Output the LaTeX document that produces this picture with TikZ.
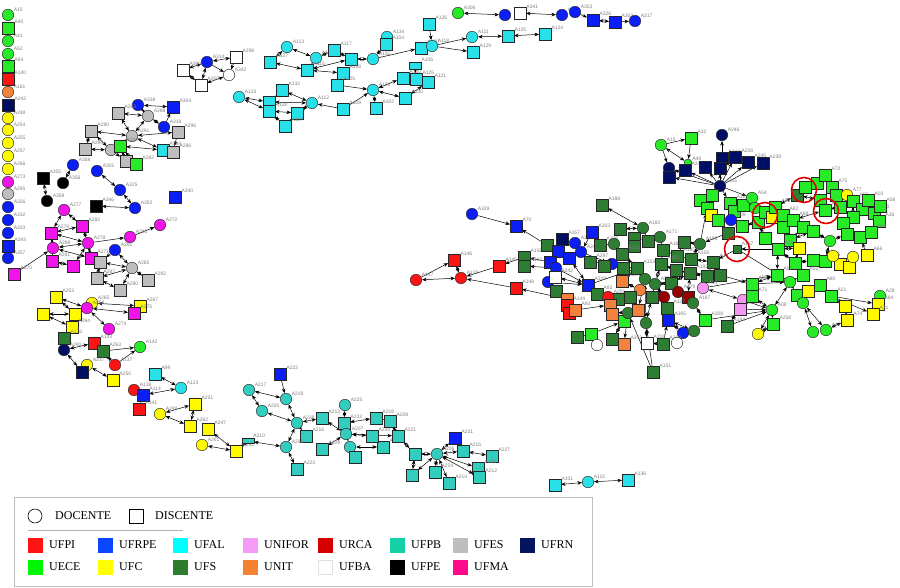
\documentclass[tikz,border=0pt]{standalone}
\usepackage{fontspec}
\setmainfont{Liberation Serif}
\newfontfamily\lbfont{Liberation Sans}
\usetikzlibrary{arrows.meta}
\pgfdeclarelayer{bg}
\pgfsetlayers{bg,main}
\definecolor{gn}{RGB}{40,235,40}
\definecolor{rd}{RGB}{250,20,20}
\definecolor{og}{RGB}{245,130,60}
\definecolor{nv}{RGB}{0,15,100}
\definecolor{yl}{RGB}{255,250,0}
\definecolor{mg}{RGB}{240,20,235}
\definecolor{gy}{RGB}{190,190,190}
\definecolor{bl}{RGB}{10,30,245}
\definecolor{cy}{RGB}{40,225,232}
\definecolor{tl}{RGB}{50,205,190}
\definecolor{wh}{RGB}{255,255,255}
\definecolor{bk}{RGB}{0,0,0}
\definecolor{dg}{RGB}{45,125,50}
\definecolor{mr}{RGB}{150,0,0}
\definecolor{pk}{RGB}{245,150,245}
\definecolor{Lufpi}{RGB}{255,20,20}
\definecolor{Lufrpe}{RGB}{10,70,255}
\definecolor{Lufal}{RGB}{0,255,255}
\definecolor{Lunifor}{RGB}{245,155,245}
\definecolor{Lurca}{RGB}{215,0,0}
\definecolor{Lufpb}{RGB}{20,210,165}
\definecolor{Lufes}{RGB}{190,190,190}
\definecolor{Lufrn}{RGB}{5,20,95}
\definecolor{Luece}{RGB}{0,245,0}
\definecolor{Lufc}{RGB}{255,255,0}
\definecolor{Lufs}{RGB}{45,125,45}
\definecolor{Lunit}{RGB}{245,130,50}
\definecolor{Lufba}{RGB}{255,255,255}
\definecolor{Lufpe}{RGB}{0,0,0}
\definecolor{Lufma}{RGB}{255,10,140}
\tikzset{
 nd/.style={draw=black!85, line width=0.45pt, inner sep=0pt, minimum size=11.5pt},
 cs/.style={nd, circle, fill=#1},
 ss/.style={nd, rectangle, fill=#1},
 l/.style={label={[lb]30:#1}},
 lb/.style={font=\lbfont\fontsize{5}{5.5}\selectfont, text=black!50, inner sep=0.4pt},
 e/.style={{Stealth[length=4.6pt,width=3.6pt]}-{Stealth[length=4.6pt,width=3.6pt]}, line width=0.5pt},
 a/.style={-{Stealth[length=4.6pt,width=3.6pt]}, line width=0.5pt},
 ring/.style={circle, draw=red!90!black, line width=1.6pt, minimum size=25pt, inner sep=0pt},
 legsq/.style={rectangle, fill=#1, minimum size=15pt, inner sep=0pt},
 legtx/.style={anchor=west, font=\fontsize{12}{14}\selectfont, inner sep=0pt},
}
\begin{document}
\begin{tikzpicture}[x=1pt,y=-1pt]
\useasboundingbox (0,0) rectangle (900,587);
% ---------- left column
\node[cs=gn,l=A15] (A15) at (8,15) {};
\node[ss=gn,l=A40] (A40) at (8,28) {};
\node[cs=gn,l=A41] (A41) at (8,41) {};
\node[cs=gn,l=A52] (A52) at (8,54) {};
\node[ss=gn,l=A64] (A64) at (8,66) {};
\node[ss=rd,l=A140] (A140) at (8,79) {};
\node[cs=og,l=A161] (A161) at (8,92) {};
\node[ss=nv,l=A242] (A242) at (8,105) {};
\node[cs=yl,l=A248] (A248) at (8,118) {};
\node[cs=yl,l=A254] (A254) at (8,130) {};
\node[cs=yl,l=A255] (A255) at (8,143) {};
\node[cs=yl,l=A257] (A257) at (8,156) {};
\node[cs=yl,l=A266] (A266) at (8,169) {};
\node[cs=mg,l=A273] (A273) at (8,182) {};
\node[cs=gy,l=A295] (A295) at (8,194) {};
\node[cs=bl,l=A326] (A326) at (8,207) {};
\node[cs=bl,l=A332] (A332) at (8,220) {};
\node[cs=bl,l=A333] (A333) at (8,233) {};
\node[ss=bl,l=A343] (A343) at (8,246) {};
\node[cs=bl,l=A357] (A357) at (8,258) {};
\node[ss=mg,l=A270] (A270) at (14,274) {};
% ---------- white group
\node[ss=wh,l=A300] (w1) at (183,70) {};
\node[cs=bl,l=A314] (w2) at (207,62) {};
\node[ss=wh,l=A298] (w3) at (236,57) {};
\node[cs=wh,l=A342] (w4) at (229,75) {};
\node[ss=wh,l=A350] (w5) at (201,85) {};
% ---------- top cyan
\node[cs=cy,l=A113] (t1) at (287,47) {};
\node[ss=cy,l=A127] (t2) at (270,62) {};
\node[cs=cy,l=A116] (t3) at (316,58) {};
\node[ss=cy,l=A117] (t4) at (334,50) {};
\node[ss=cy] (t5) at (351,59) {};
\node[ss=cy,l=A115] (t6) at (307,70) {};
\node[ss=cy,l=A108] (t7) at (343,73) {};
\node[ss=cy,l=A132] (t8) at (282,90) {};
\node[cs=cy,l=A133] (t9) at (239,97) {};
\node[ss=cy] (t10) at (269,102) {};
\node[ss=cy,l=A128] (t11) at (269,111) {};
\node[ss=cy] (t12) at (297,113) {};
\node[ss=cy,l=A107] (t13) at (285,126) {};
\node[cs=cy,l=A112] (t14) at (312,103) {};
\node[ss=cy,l=A105] (t15) at (337,85) {};
\node[ss=cy,l=A109] (t16) at (343,109) {};
\node[cs=cy,l=A131] (t17) at (373,59) {};
\node[cs=cy,l=A103] (t18) at (373,90) {};
\node[cs=cy,l=A134] (t19) at (387,37) {};
\node[ss=cy,l=A104] (t20) at (386,44) {};
\node[ss=cy,l=A120] (t21) at (421,48) {};
\node[cs=cy,l=A118] (t22) at (432,46) {};
\node[ss=cy,l=A126] (t23) at (429,24) {};
\node[cs=cy,l=A111] (t24) at (472,37) {};
\node[ss=cy,l=A129] (t25) at (473,52) {};
\node[ss=cy,l=A125] (t26) at (508,36) {};
\node[ss=cy,l=A124] (t27) at (545,34) {};
\node[ss=cy,l=A130] (t28) at (403,78) {};
\node[ss=cy,l=A100] (t29) at (405,98) {};
\node[ss=cy,l=A102] (t30) at (376,108) {};
\node[ss=cy,minimum height=7pt,l=A106] (t31) at (415,66) {};
\node[ss=cy,l=A121] (t32) at (428,82) {};
\node[ss=cy,l=A125] (t33) at (416,79) {};
% ---------- top right chain
\node[cs=gn,l=A306] (r1) at (458,13) {};
\node[cs=bl] (r2) at (505,15) {};
\node[ss=wh,l=A341] (r3) at (520,13) {};
\node[cs=bl,l=A315] (r4) at (562,15) {};
\node[cs=bl,l=A353] (r5) at (575,12) {};
\node[ss=bl,l=A328] (r6) at (593,20) {};
\node[ss=bl,l=A302] (r7) at (615,22) {};
\node[cs=bl,l=A217] (r8) at (635,21) {};
% ---------- gray group
\node[cs=bl,l=A338] (g1) at (138,105) {};
\node[ss=bl,l=A304] (g2) at (173,107) {};
\node[ss=gy,l=A283] (g3) at (118,113) {};
\node[cs=gy,l=A288] (g4) at (148,116) {};
\node[cs=bl,l=A318] (g5) at (164,127) {};
\node[ss=gy,l=A290] (g6) at (91,131) {};
\node[cs=gy,l=A291] (g7) at (132,136) {};
\node[ss=gy,l=A296] (g8) at (178,132) {};
\node[ss=gy,l=A294] (g9) at (85,149) {};
\node[cs=gy] (g10) at (111,150) {};
\node[ss=gn,l=A344] (g11) at (120,146) {};
\node[ss=cy,l=A334] (g12) at (163,150) {};
\node[ss=gy,l=A286] (g13) at (173,152) {};
\node[ss=gy] (g14) at (126,161) {};
\node[ss=gn,l=A282] (g15) at (136,164) {};
% ---------- black/blue
\node[cs=bl,l=A358] (b1) at (73,165) {};
\node[ss=bk,l=A355] (b2) at (43,178) {};
\node[cs=bk,l=A356] (b3) at (63,183) {};
\node[cs=bk,l=A359] (b4) at (47,201) {};
\node[cs=bl,l=A301] (b5) at (97,171) {};
\node[cs=bl,l=A325] (b6) at (120,190) {};
\node[ss=bk,l=A346] (b7) at (96,206) {};
\node[cs=bl,l=A352] (b8) at (135,208) {};
\node[ss=bl,l=A340] (b9) at (175,197) {};
% ---------- magenta
\node[cs=mg,l=A277] (m1) at (64,210) {};
\node[ss=mg,l=A282] (m2) at (82,226) {};
\node[ss=mg,l=A279] (m3) at (51,233) {};
\node[cs=mg,l=A278] (m4) at (88,243) {};
\node[cs=mg,l=A280] (m5) at (130,237) {};
\node[cs=mg,l=A272] (m6) at (160,225) {};
\node[cs=mg,l=A289] (m7) at (53,248) {};
\node[ss=mg,l=A281] (m8) at (52,261) {};
\node[ss=mg] (m9) at (73,266) {};
\node[ss=mg,l=A271] (m10) at (91,258) {};
% ---------- gray lower
\node[cs=bl,l=A291] (q1) at (115,250) {};
\node[ss=gy] (q2) at (100,262) {};
\node[cs=gy,l=A285] (q3) at (132,268) {};
\node[ss=gy,l=A287] (q4) at (97,278) {};
\node[ss=gy,l=A290] (q5) at (120,290) {};
\node[ss=gy,l=A292] (q6) at (148,280) {};
% ---------- yellow lower left
\node[cs=yl,l=A265] (y5) at (92,303) {};
\node[ss=yl,l=A253] (y1) at (56,297) {};
\node[ss=yl] (y2) at (43,314) {};
\node[ss=yl,l=A256] (y3) at (75,314) {};
\node[cs=mg,l=A258] (y4) at (87,308) {};
\node[ss=yl,l=A267] (y6) at (140,306) {};
\node[ss=mg,l=A275] (y7) at (134,313) {};
\node[ss=yl,l=A264] (y8) at (72,327) {};
\node[cs=mg,l=A274] (y9) at (109,329) {};
\node[ss=dg,l=A176] (y10) at (64,338) {};
\node[cs=nv,l=A240] (y11) at (64,350) {};
\node[ss=rd,l=A143] (y12) at (94,343) {};
\node[ss=dg,l=A263] (y13) at (103,351) {};
\node[cs=gn,l=A142] (y14) at (140,347) {};
\node[cs=rd,l=A137] (y15) at (115,365) {};
\node[cs=yl,l=A237] (y16) at (87,365) {};
\node[ss=nv] (y17) at (82,372) {};
\node[ss=yl,l=A250] (y18) at (113,380) {};
% ---------- mid
\node[ss=cy,l=A99] (z1) at (155,374) {};
\node[cs=cy,l=A123] (z2) at (181,388) {};
\node[cs=rd,l=A138] (z3) at (134,390) {};
\node[ss=bl,l=A114] (z4) at (143,395) {};
\node[ss=rd,l=A141] (z5) at (139,409) {};
\node[ss=yl,l=A251] (z6) at (195,404) {};
\node[cs=yl,l=A249] (z7) at (160,414) {};
\node[ss=yl,l=A262] (z8) at (190,426) {};
\node[ss=yl,l=A247] (z9) at (208,429) {};
\node[cs=yl,l=A261] (z10) at (202,445) {};
\node[ss=yl,l=A252] (z11) at (236,451) {};
\node[ss=tl,minimum height=5pt,l=A210] (z12) at (248,441) {};
% ---------- bottom teal
\node[ss=bl,l=A222] (u1) at (280,374) {};
\node[cs=tl,l=A217] (u2) at (249,390) {};
\node[cs=tl,l=A219] (u3) at (286,399) {};
\node[cs=tl,l=A220] (u4) at (262,411) {};
\node[cs=tl,l=A228] (u5) at (297,423) {};
\node[ss=tl,l=A213] (u6) at (322,418) {};
\node[ss=tl,l=A216] (u7) at (306,436) {};
\node[ss=tl,l=A232] (u8) at (344,423) {};
\node[cs=tl,l=A225] (u9) at (345,405) {};
\node[cs=tl,l=A207] (u10) at (346,434) {};
\node[cs=tl,l=A233] (u11) at (286,447) {};
\node[ss=tl,l=A223] (u12) at (297,469) {};
\node[ss=tl,l=A229] (u13) at (322,449) {};
\node[cs=tl] (u14) at (350,447) {};
\node[ss=tl] (u15) at (355,457) {};
\node[ss=tl,l=A211] (u16) at (383,447) {};
\node[ss=tl,l=A234] (u17) at (372,436) {};
\node[ss=tl,l=A218] (u18) at (376,418) {};
\node[ss=tl,l=A208] (u19) at (390,421) {};
\node[ss=tl,l=A221] (u20) at (398,436) {};
\node[ss=tl] (u21) at (415,454) {};
\node[cs=tl,l=A206] (u22) at (437,454) {};
\node[ss=bl,l=A231] (u23) at (455,438) {};
\node[ss=tl,l=A215] (u24) at (463,451) {};
\node[ss=tl,l=A227] (u25) at (492,456) {};
\node[ss=tl,l=A226] (u26) at (478,468) {};
\node[ss=tl,l=A212] (u27) at (479,477) {};
\node[ss=tl] (u28) at (412,475) {};
\node[ss=tl,l=A224] (u29) at (435,472) {};
\node[ss=tl,l=A214] (u30) at (449,483) {};
\node[ss=cy,l=A101] (v1) at (555,485) {};
\node[cs=cy,l=A115] (v2) at (588,482) {};
\node[ss=cy,l=A136] (v3) at (628,480) {};
% ---------- red group
\node[cs=bl,l=A329] (k1) at (472,214) {};
\node[ss=bl,l=A70] (k2) at (516,226) {};
\node[ss=dg,l=A188] (k3) at (602,205) {};
\node[ss=rd,l=A146] (k4) at (454,260) {};
\node[cs=rd,l=A147] (k5) at (416,280) {};
\node[cs=rd,l=A139] (k6) at (461,278) {};
\node[ss=rd,l=A145] (k7) at (499,266) {};
\node[ss=rd,l=A148] (k8) at (516,288) {};
% ---------- central
\node[ss=dg,l=A158] (c1) at (524,257) {};
\node[ss=dg,l=A162] (c2) at (524,266) {};
\node[ss=dg] (c10) at (547,245) {};
\node[ss=nv,l=A357] (c3) at (562,239) {};
\node[cs=bl,l=A354] (c4) at (575,243) {};
\node[ss=bl] (c6) at (558,251) {};
\node[cs=bl,l=A248] (c5) at (581,252) {};
\node[ss=bl] (c7) at (569,258) {};
\node[ss=bl] (c8) at (550,262) {};
\node[cs=bl] (c9) at (556,268) {};
\node[ss=bl,l=A303] (c11) at (592,232) {};
\node[cs=bl,l=A300] (c12) at (612,264) {};
\node[ss=bl,l=A319] (c13) at (588,285) {};
\node[cs=bl] (c14) at (548,282) {};
\node[ss=wh,l=A242] (c15) at (555,277) {};
\node[ss=dg] (c16) at (556,291) {};
\node[ss=dg,l=A92] (c17) at (597,294) {};
\node[ss=og] (c18) at (567,299) {};
\node[ss=rd,l=A144] (c19) at (567,305) {};
\node[ss=rd] (c20) at (569,313) {};
\node[ss=og,l=A93] (c21) at (575,310) {};
\node[ss=dg] (c23) at (618,299) {};
\node[cs=rd,l=A201] (c22) at (608,297) {};
\node[ss=og] (c24) at (610,305) {};
\node[ss=og] (c25) at (612,314) {};
\node[ss=dg] (c27) at (577,337) {};
\node[ss=gn] (c26) at (591,334) {};
\node[cs=wh] (c28) at (597,345) {};
\node[ss=dg] (c29) at (612,339) {};
\node[ss=og,l=A202] (c30) at (624,344) {};
\node[ss=gn,l=A349] (c31) at (624,321) {};
\node[cs=dg] (c32) at (628,313) {};
\node[ss=og] (c33) at (638,310) {};
\node[ss=wh,l=A316] (c34) at (647,343) {};
\node[cs=dg] (c35) at (646,323) {};
\node[ss=dg,l=A151] (c36) at (653,372) {};
\node[ss=dg,l=A297] (c37) at (590,262) {};
\node[ss=dg,l=A236] (c38) at (600,245) {};
\node[ss=og,l=A173] (c39) at (622,281) {};
\node[cs=og] (c40) at (640,290) {};
\node[ss=dg] (d25) at (620,229) {};
\node[cs=dg,l=A182] (d1) at (643,228) {};
\node[ss=dg] (d2) at (634,238) {};
\node[ss=dg,l=A180] (d3) at (634,246) {};
\node[ss=dg] (d4) at (648,241) {};
\node[cs=dg,l=A171] (d5) at (660,237) {};
\node[cs=dg] (d28) at (614,244) {};
\node[ss=dg,l=A152] (d6) at (622,254) {};
\node[ss=dg] (d7) at (604,266) {};
\node[ss=dg] (d26) at (623,268) {};
\node[ss=dg,l=A153] (d8) at (637,268) {};
\node[cs=dg] (d9) at (645,279) {};
\node[ss=dg] (d10) at (630,297) {};
\node[ss=dg] (d11) at (652,297) {};
\node[ss=dg,l=A166] (d12) at (663,250) {};
\node[ss=dg] (d27) at (684,242) {};
\node[ss=dg,l=A185] (d13) at (677,256) {};
\node[ss=dg,l=A159] (d14) at (691,259) {};
\node[cs=dg,l=A195] (d15) at (700,244) {};
\node[ss=dg,l=A18] (d16) at (713,262) {};
\node[ss=dg] (d17) at (707,276) {};
\node[ss=dg,l=A192] (d18) at (690,273) {};
\node[ss=dg] (d19) at (676,270) {};
\node[ss=dg,l=A155] (d20) at (661,264) {};
\node[cs=dg,l=A200] (d21) at (655,284) {};
\node[ss=dg] (d22) at (671,283) {};
\node[ss=dg,l=A199] (d23) at (728,233) {};
\node[ss=dg,minimum size=8pt,l=A157] (d24) at (737,249) {};
\node[ss=dg] (d29) at (720,275) {};
\node[cs=mr,l=A179] (p14) at (678,292) {};
\node[cs=mr] (p15) at (664,297) {};
\node[ss=mr] (p16) at (688,297) {};
\node[cs=pk,l=A01] (p1) at (703,288) {};
\node[cs=pk,l=A33] (p2) at (743,300) {};
\node[ss=pk,l=A157] (p3) at (740,309) {};
\node[cs=dg,l=A187] (p4) at (693,303) {};
\node[ss=gn,l=A308] (p5) at (705,320) {};
\node[ss=dg,l=A194] (p6) at (727,326) {};
\node[ss=dg,l=A327] (p13) at (667,308) {};
\node[ss=bl,l=A305] (p12) at (668,320) {};
\node[cs=bl,l=A321] (p7) at (683,333) {};
\node[cs=dg] (p8) at (694,331) {};
\node[ss=dg,l=A310] (p11) at (663,344) {};
\node[cs=wh] (p9) at (677,343) {};
% ---------- navy group
\node[cs=gn,l=A15] (f1) at (661,145) {};
\node[ss=gn,l=A32] (f2) at (691,138) {};
\node[cs=nv,l=A246] (f3) at (722,135) {};
\node[cs=gn,minimum size=8pt,l=A49] (f4) at (688,163) {};
\node[cs=nv] (f5) at (669,168) {};
\node[ss=nv] (f6) at (669,177) {};
\node[ss=nv,l=A243] (f7) at (685,170) {};
\node[ss=nv] (f8) at (705,167) {};
\node[ss=nv,l=A244] (f9) at (722,158) {};
\node[ss=nv] (f10) at (720,168) {};
\node[ss=nv,l=A228] (f11) at (735,157) {};
\node[ss=nv,l=A245] (f12) at (748,162) {};
\node[ss=nv,l=A239] (f13) at (763,163) {};
\node[cs=nv,l=A331] (f14) at (720,186) {};
% ---------- green cluster
\node[ss=gn] (e70) at (700,200) {};
\node[ss=gn] (e71) at (712,195) {};
\node[ss=gn] (e1) at (707,208) {};
\node[ss=yl] (e2) at (711,215) {};
\node[ss=gn] (e3) at (718,220) {};
\node[ss=gn,l=A125] (e5) at (730,203) {};
\node[ss=gn] (e6) at (734,211) {};
\node[cs=bl,l=A09] (e4) at (731,220) {};
\node[ss=gn] (e7) at (743,205) {};
\node[cs=gn,l=A54] (e8) at (752,198) {};
\node[cs=gn] (e9) at (755,208) {};
\node[ss=gn] (e72) at (742,226) {};
\node[ss=gn] (e10) at (758,222) {};
\node[ss=gn,l=A24] (e11) at (765,212) {};
\node[ss=yl] (e12) at (772,217) {};
\node[ss=gn,l=A89] (e13) at (775,207) {};
\node[ss=gn,l=A82] (e14) at (783,215) {};
\node[ss=gn] (e15) at (783,227) {};
\node[ss=gn,l=A88] (e16) at (793,220) {};
\node[ss=gn] (e17) at (803,227) {};
\node[ss=dg] (e19) at (797,195) {};
\node[ss=gn] (e18) at (805,187) {};
\node[ss=gn] (e20) at (817,183) {};
\node[ss=gn,l=A72] (e21) at (825,175) {};
\node[ss=gn,l=A75] (e22) at (832,187) {};
\node[ss=gn] (e23) at (820,200) {};
\node[ss=gn,l=A62] (e24) at (825,210) {};
\node[ss=gn] (e25) at (836,195) {};
\node[cs=yl,l=A77] (e26) at (847,195) {};
\node[ss=gn] (e27) at (840,207) {};
\node[ss=gn,l=A59] (e28) at (853,201) {};
\node[ss=gn,l=A83] (e29) at (862,209) {};
\node[ss=gn,l=A03] (e30) at (868,200) {};
\node[ss=gn,l=A30] (e31) at (874,213) {};
\node[ss=gn,l=A58] (e32) at (880,206) {};
\node[ss=gn,l=A36] (e33) at (879,221) {};
\node[ss=gn] (e34) at (853,217) {};
\node[ss=gn] (e35) at (843,223) {};
\node[ss=gn] (e36) at (847,234) {};
\node[ss=gn] (e37) at (860,237) {};
\node[ss=gn,l=A69] (e38) at (871,232) {};
\node[cs=gn] (e39) at (830,241) {};
\node[ss=gn] (e40) at (813,231) {};
\node[ss=gn] (e73) at (765,238) {};
\node[ss=gn] (e74) at (790,240) {};
\node[ss=gn,l=A29] (e41) at (778,249) {};
\node[ss=yl] (e64) at (799,248) {};
\node[ss=gn] (e42) at (795,263) {};
\node[ss=gn] (e43) at (813,260) {};
\node[ss=gn,l=A86] (e44) at (825,261) {};
\node[ss=yl,l=A66] (e65) at (867,255) {};
\node[ss=yl] (e66) at (840,264) {};
\node[ss=yl] (e67) at (849,267) {};
\node[cs=yl] (e68) at (833,256) {};
\node[cs=yl] (e69) at (853,257) {};
\node[ss=gn,l=A57] (e45) at (777,275) {};
\node[cs=gn] (e46) at (790,282) {};
\node[ss=gn,l=A52] (e47) at (803,275) {};
\node[ss=gn] (e48) at (797,295) {};
\node[ss=yl] (e49) at (808,291) {};
\node[ss=gn,l=A80] (e50) at (820,285) {};
\node[ss=gn,l=A21] (e51) at (831,296) {};
\node[cs=gn] (e52) at (803,303) {};
\node[cs=gn] (e53) at (813,332) {};
\node[cs=gn,l=A42] (e54) at (826,330) {};
\node[ss=yl,l=A74] (e55) at (847,320) {};
\node[ss=yl] (e56) at (845,306) {};
\node[cs=gn,l=A28] (e57) at (880,296) {};
\node[ss=yl,l=A84] (e58) at (878,304) {};
\node[ss=yl,l=A31] (e59) at (873,314) {};
\node[cs=gn,l=A08] (e60) at (772,310) {};
\node[cs=yl,l=A35] (e61) at (758,334) {};
\node[ss=gn,l=A258] (e62) at (773,324) {};
\node[ss=gn,l=A57] (e63) at (752,284) {};
\node[ss=gn,l=A71] (e75) at (752,296) {};
% ---------- rings
\node[ring] (R1) at (804,190) {};
\node[ring] (R2) at (765,215) {};
\node[ring] (R3) at (826,211) {};
\node[ring] (R4) at (737,249) {};
% ---------- legend
\node[draw=black!25, line width=0.6pt, minimum width=578pt, minimum height=89pt, inner sep=0pt] (LB) at (303,541.5) {};
\node[circle, draw, line width=0.6pt, minimum size=14pt, inner sep=0pt] (Ldoc) at (35,516) {};
\node[legtx] (Ldoct) at (55,516) {DOCENTE};
\node[rectangle, draw, line width=0.6pt, minimum size=14pt, inner sep=0pt] (Ldis) at (136,516) {};
\node[legtx] (Ldist) at (155,516) {DISCENTE};
\draw[black!30, line width=0.5pt] (28,530) -- (183,530);
\foreach \nm/\x/\y/\c in {UFPI/35/545/Lufpi, UFRPE/105/545/Lufrpe, UFAL/180/545/Lufal, UNIFOR/250/545/Lunifor, URCA/325/545/Lurca, UFPB/397/545/Lufpb, UFES/460/545/Lufes, UFRN/527/545/Lufrn, UECE/35/567/Luece, UFC/105/567/Lufc, UFS/180/567/Lufs, UNIT/250/567/Lunit, UFPE/397/567/Lufpe, UFMA/460/567/Lufma}{
  \node[legsq=\c] (Lsq\nm) at (\x,\y) {};
  \node[legtx] (Ltx\nm) at (\x+14,\y) {\nm};
}
\node[legsq=Lufba, draw=black!12, line width=0.4pt, minimum size=14.5pt] (LsqUFBA) at (325,567) {};
\node[legtx] (LtxUFBA) at (339,567) {UFBA};
% ---------- edges
\begin{pgfonlayer}{bg}
\foreach \p/\q in {w1/w2,w1/w5,w2/w3,w5/w4,w5/w2,
 t9/t10,t9/t11,t10/t8,t1/t2,t1/t3,t2/t6,t3/t6,t3/t4,t4/t5,t6/t5,t6/t7,t5/t17,t17/t20,t20/t19,t21/t22,t24/t26,t26/t27,t15/t7,t14/t10,t14/t12,t18/t28,t18/t29,t18/t30,t28/t32,t33/t32,t28/t33,t29/t32,t12/t11,t13/t11,t13/t12,t8/t14,
 r1/r2,r3/r4,r6/r7,
 g1/g2,g1/g4,g3/g4,g4/g5,g4/g7,g6/g7,g6/g9,g9/g10,g10/g7,g11/g7,g7/g8,g7/g12,g11/g12,g14/g11,g15/g11,g3/g7,g6/g10,
 b1/b3,b2/b4,b5/b6,b6/b8,b7/b8,
 m1/m2,m1/m3,m3/m2,m3/m4,m2/m4,m3/m7,m7/m4,m7/m8,m8/m9,m9/m4,m10/m4,m7/m10,
 q1/q3,q2/q3,q2/q4,q4/q3,q4/q5,q5/q3,q3/q6,
 y1/y3,y1/y4,y2/y3,y2/y8,y3/y8,y4/y7,y5/y6,y4/y9,y11/y17,y16/y18,y12/y13,y13/y15,y12/y11,
 z1/z2,z2/z4,z3/z4,z4/z5,z7/z6,z6/z8,z7/z8,z9/z11,z10/z11,z11/z12,z12/u11,
 u2/u3,u3/u5,u2/u4,u4/u5,u5/u6,u5/u7,u5/u11,u11/u12,u6/u10,u13/u10,u9/u8,u8/u10,u10/u14,u10/u17,u18/u19,u8/u18,u17/u16,u14/u16,u15/u14,u10/u20,u19/u20,u20/u21,u21/u22,u22/u23,u22/u24,u24/u25,u22/u26,u22/u27,u28/u22,u29/u22,u30/u22,u21/u28,
 v1/v2,v2/v3,
 k5/k6,k4/k6,k3/d1,
 c3/c4,c4/c5,c6/c7,c7/c5,c8/c9,c6/c8,c10/c6,c3/c6,c7/c13,c15/c13,c13/c17,c17/d10,c18/c19,c19/c21,c20/c21,c22/c24,c23/d10,c24/c25,c25/c33,c27/c26,c28/c26,c29/c31,c30/c32,c31/c32,c32/c33,c33/d10,c35/d11,c34/c35,c35/d9,c33/d9,c40/d9,c39/c40,c39/d8,c22/c23,c23/c40,c38/c11,c38/d28,d28/d6,d25/d1,d2/d3,d1/d4,d4/d5,d3/d6,d6/d8,d7/d8,d8/d9,d9/d21,d20/d21,d12/d20,d5/d12,d12/d13,d13/d14,d14/d15,d15/d27,d27/d13,d14/d16,d16/d17,d17/d18,d18/d19,d19/d20,d19/d22,d22/d21,d18/d22,d10/d9,d11/d21,d26/d8,d26/d7,d29/d17,p14/d22,p15/d21,p16/d18,p1/d17,p14/p16,p13/p15,p12/p13,p7/p12,p8/p12,p9/p7,p5/p4,p4/p16,p6/p3,p3/p2,p2/p1,
 f1/f4,f4/f7,
 e70/e1,e71/e1,e1/e2,e2/e3,e3/e4,e4/e6,e5/e6,e6/e7,e7/e8,e8/e9,e9/e11,e10/e11,e11/e12,e12/e13,e13/e14,e14/e16,e15/e16,e16/e17,e17/e40,e18/e19,e19/e13,e18/e20,e20/e21,e21/e22,e22/e25,e25/e26,e23/e24,e24/e27,e27/e28,e28/e29,e29/e30,e30/e31,e31/e32,e32/e33,e33/e38,e34/e35,e35/e36,e36/e37,e37/e38,e39/e40,e39/e36,e23/e19,e24/e16,e27/e34,e28/e34,e10/e73,e73/e41,e41/e42,e41/e45,e42/e43,e43/e44,e44/e39,e64/e41,e64/e42,e66/e67,e68/e66,e69/e67,e44/e68,e45/e46,e46/e47,e47/e42,e46/e48,e48/e49,e49/e50,e50/e51,e57/e58,e58/e59,e48/e52,e52/e53,e52/e54,e54/e55,e55/e56,e56/e51,e46/e60,e60/e61,e60/e62,e62/e61,e63/e45,e72/e4,e72/e10,e74/e40,e74/e17,e75/e60}
 {\draw[e] (\p) -- (\q);}
\foreach \p/\q in {w2/w4,w3/w4,t17/t21,t23/t22,t22/t24,t22/t25,t15/t18,t16/t14,t16/t18,t31/t33,r7/r8,r5/r6,g5/g2,g8/g13,g10/g14,
 m4/m5,m5/m6,A270/m7,q1/q2,y13/y14,y15/y14,y17/y16,u1/u3,
 k1/k2,c10/k2,k5/k4,k7/k6,k8/k6,c1/k7,c18/k8,c8/c1,c9/c2,c11/c5,c5/c12,c12/d6,c12/d7,c9/c13,c14/c13,c13/d8,c21/c24,c26/c31,c36/c35,c36/c32,c37/c12,d23/d15,d24/d16,p11/p12,p11/c34,
 p1/e45,p3/e60,p2/e60,p6/e60,p5/e60,d24/e46,d29/e63,
 f1/f2,f2/f4,f9/f3,f14/f5,f14/f6,f14/f7,f14/f8,f14/f9,f14/f10,f14/f11,f14/f12,f14/f13,f1/f5,
 f14/e8,f14/e5,f14/e70,d23/e3,d15/e1,e65/e37,e51/e58,e51/e59,e63/e46,e41/d24,e61/e62}
 {\draw[a] (\p) -- (\q);}
\end{pgfonlayer}
\end{tikzpicture}
\end{document}
